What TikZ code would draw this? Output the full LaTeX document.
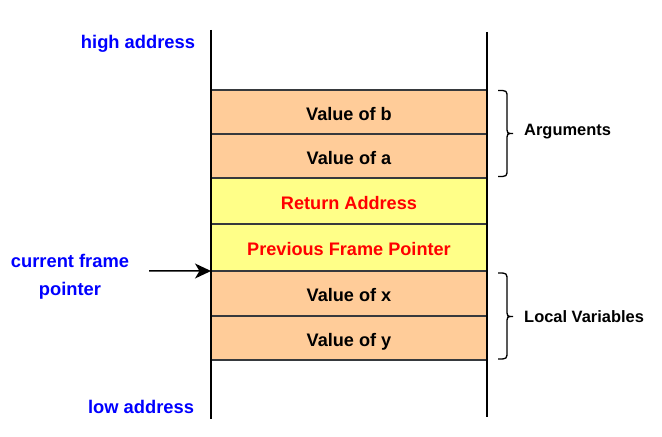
\documentclass[tikz,border=0pt]{standalone}
\usepackage{fontspec}
\setmainfont{Liberation Sans}
\usetikzlibrary{arrows.meta}
\definecolor{cellorange}{HTML}{FFCC99}
\definecolor{cellyellow}{HTML}{FFFF88}
\definecolor{cellborder}{HTML}{36393D}
\definecolor{txtblue}{HTML}{0000FF}
\definecolor{txtred}{HTML}{FF0000}
\begin{document}
\begin{tikzpicture}[x=1bp,y=-1bp,
  cell/.style={draw=cellborder, line width=1.5bp, minimum width=276bp, inner sep=0pt, outer sep=0pt,
    text height=16.5bp, text depth=0pt,
    font=\fontsize{18.2}{22}\selectfont\bfseries},
  orangecell/.style={cell, fill=cellorange, text=black},
  yellowcell/.style={cell, fill=cellyellow, text=txtred},
  bluelabel/.style={text=txtblue, font=\fontsize{18.4}{27.7}\selectfont\bfseries, align=center, inner sep=0pt},
  bracelabel/.style={text=black, font=\fontsize{16.5}{20}\selectfont\bfseries, anchor=base west, inner sep=0pt},
  bracepath/.style={draw=black, line width=1.3bp},
  wall/.style={draw=black, line width=1.8bp}
]
\useasboundingbox (0,0) rectangle (662,437);
\fill[white] (0,0) rectangle (662,437);

\node[orangecell, minimum height=44bp] (b) at (349,112) {Value of b};
\node[orangecell, minimum height=44bp] (a) at (349,156) {Value of a};
\node[yellowcell, minimum height=46bp] (ra) at (349,201) {Return Address};
\node[yellowcell, minimum height=47bp] (pfp) at (349,247.5) {Previous Frame Pointer};
\node[orangecell, minimum height=45bp] (x) at (349,293.5) {Value of x};
\node[orangecell, minimum height=44bp] (y) at (349,338) {Value of y};

\draw[wall] (211,30) -- (211,419);
\draw[wall] (487,32) -- (487,417);

\node[bluelabel, anchor=base] (high) at (138,48.5) {high address};
\node[bluelabel, anchor=base] (low) at (141,413.5) {low address};
\node[bluelabel] (cfp) at (70,277) {current frame\\pointer};

\coordinate (arrstart) at (149,271);
\draw[line width=1.5bp, -{Stealth[length=16bp,width=15bp,inset=4.5bp]}] (arrstart) -- (x.north west);

\draw[bracepath] (498,90.5) .. controls (507,90.5) .. (507,98) -- (507,126)
  .. controls (507,133.5) .. (513,133.5) .. controls (507,133.5) .. (507,141) -- (507,169)
  .. controls (507,176.5) .. (498,176.5);
\draw[bracepath] (498,273) .. controls (507,273) .. (507,281) -- (507,309)
  .. controls (507,316.5) .. (513,316.5) .. controls (507,316.5) .. (507,324) -- (507,351)
  .. controls (507,359) .. (498,359);

\node[bracelabel] (args) at (524,136) {Arguments};
\node[bracelabel] (locals) at (524,322.3) {Local Variables};
\end{tikzpicture}
\end{document}
